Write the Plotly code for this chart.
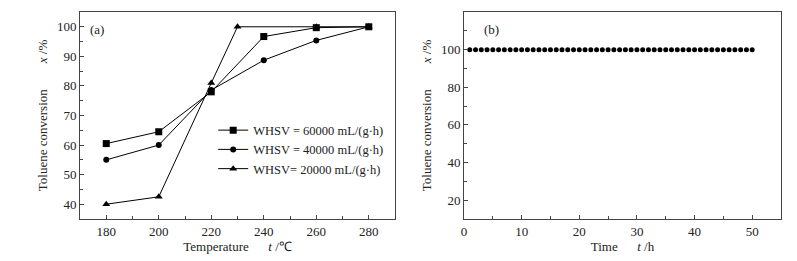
import plotly.graph_objects as go
from plotly.subplots import make_subplots

# Panel (a) data
temp_60000 = [180, 200, 220, 240, 260, 280]
conv_60000 = [60.5, 64.5, 78.0, 96.7, 99.7, 100.0]
temp_40000 = [180, 200, 220, 240, 260, 280]
conv_40000 = [55.0, 60.0, 78.6, 88.7, 95.4, 100.0]
temp_20000 = [180, 200, 220, 230, 260, 280]
conv_20000 = [40.0, 42.5, 81.0, 100.0, 100.0, 100.0]
legend_names = ["WHSV = 60000 mL/(g·h)", "WHSV = 40000 mL/(g·h)", "WHSV= 20000 mL/(g·h)"]

# Panel (b) data
time_h = list(range(1, 51))
conv_time = [100.0] * 50

FONT = "Times New Roman, Liberation Serif, serif"
AX = "#444"
TXT = "#222"
FS = 13

fig = make_subplots(rows=1, cols=2, horizontal_spacing=0.0)

line = dict(color="black", width=1)
fig.add_trace(go.Scatter(x=temp_60000, y=conv_60000, mode="lines+markers", name=legend_names[0],
                         line=line, marker=dict(symbol="square", size=7, color="black")), row=1, col=1)
fig.add_trace(go.Scatter(x=temp_40000, y=conv_40000, mode="lines+markers", name=legend_names[1],
                         line=line, marker=dict(symbol="circle", size=6, color="black")), row=1, col=1)
fig.add_trace(go.Scatter(x=temp_20000, y=conv_20000, mode="lines+markers", name=legend_names[2],
                         line=line, marker=dict(symbol="triangle-up", size=7, color="black")), row=1, col=1)
fig.add_trace(go.Scatter(x=time_h, y=conv_time, mode="markers", showlegend=False,
                         marker=dict(symbol="circle", size=5, color="black")), row=1, col=2)

common = dict(showgrid=False, zeroline=False, showline=True, linecolor=AX, linewidth=1, mirror=True,
              automargin=False, ticks="inside", ticklen=4, tickcolor=AX,
              tickfont=dict(family=FONT, size=FS, color=TXT))
tfont = dict(family=FONT, size=FS, color=TXT)

fig.update_xaxes(**common, domain=[0, 0.4494], range=[170, 290], tickmode="array",
                 tickvals=[180, 200, 220, 240, 260, 280],
                 minor=dict(ticks="inside", ticklen=3, tickcolor=AX, dtick=10, tick0=170),
                 title=dict(text="Temperature\u00a0\u00a0\u00a0\u00a0\u00a0\u00a0<i>t</i> /℃", standoff=4,
                            font=tfont), row=1, col=1)
fig.update_yaxes(**common, range=[35, 105], tickmode="array", tickvals=[40, 50, 60, 70, 80, 90, 100],
                 minor=dict(ticks="inside", ticklen=3, tickcolor=AX, dtick=5, tick0=35),
                 title=dict(text="Toluene conversion\u00a0\u00a0\u00a0\u00a0\u00a0\u00a0\u00a0\u00a0<i>x</i> /%", standoff=6,
                            font=tfont), row=1, col=1)

fig.update_xaxes(**common, domain=[0.5478, 1], range=[0, 55], tickmode="array",
                 tickvals=[0, 10, 20, 30, 40, 50],
                 minor=dict(ticks="inside", ticklen=3, tickcolor=AX, dtick=5, tick0=0),
                 title=dict(text="Time\u00a0\u00a0\u00a0\u00a0\u00a0\u00a0<i>t</i> /h", standoff=4,
                            font=tfont), row=1, col=2)
fig.update_yaxes(**common, range=[10, 120], tickmode="array", tickvals=[20, 40, 60, 80, 100],
                 minor=dict(ticks="inside", ticklen=3, tickcolor=AX, dtick=10, tick0=10),
                 title=dict(text="Toluene conversion\u00a0\u00a0\u00a0\u00a0\u00a0\u00a0\u00a0\u00a0<i>x</i> /%", standoff=6,
                            font=tfont), row=1, col=2)

fig.add_annotation(text="(a)", xref="x domain", yref="y domain", x=0.025, y=0.915, xanchor="left",
                   yanchor="middle", showarrow=False, font=tfont)
fig.add_annotation(text="(b)", xref="x2 domain", yref="y2 domain", x=0.057, y=0.915, xanchor="left",
                   yanchor="middle", showarrow=False, font=tfont)

# page body has an 8px margin: shift figure so plot areas land where the reference has them
fig.update_layout(
    width=789, height=253,
    margin=dict(l=72, r=16, t=4, b=42),
    paper_bgcolor="white", plot_bgcolor="white",
    showlegend=True,
    legend=dict(x=0.19, y=0.5, xanchor="left", yanchor="top", bgcolor="rgba(0,0,0,0)",
                font=dict(family=FONT, size=12.5, color=TXT), itemwidth=30, tracegroupgap=0),
)

fig.write_html("out.html")
